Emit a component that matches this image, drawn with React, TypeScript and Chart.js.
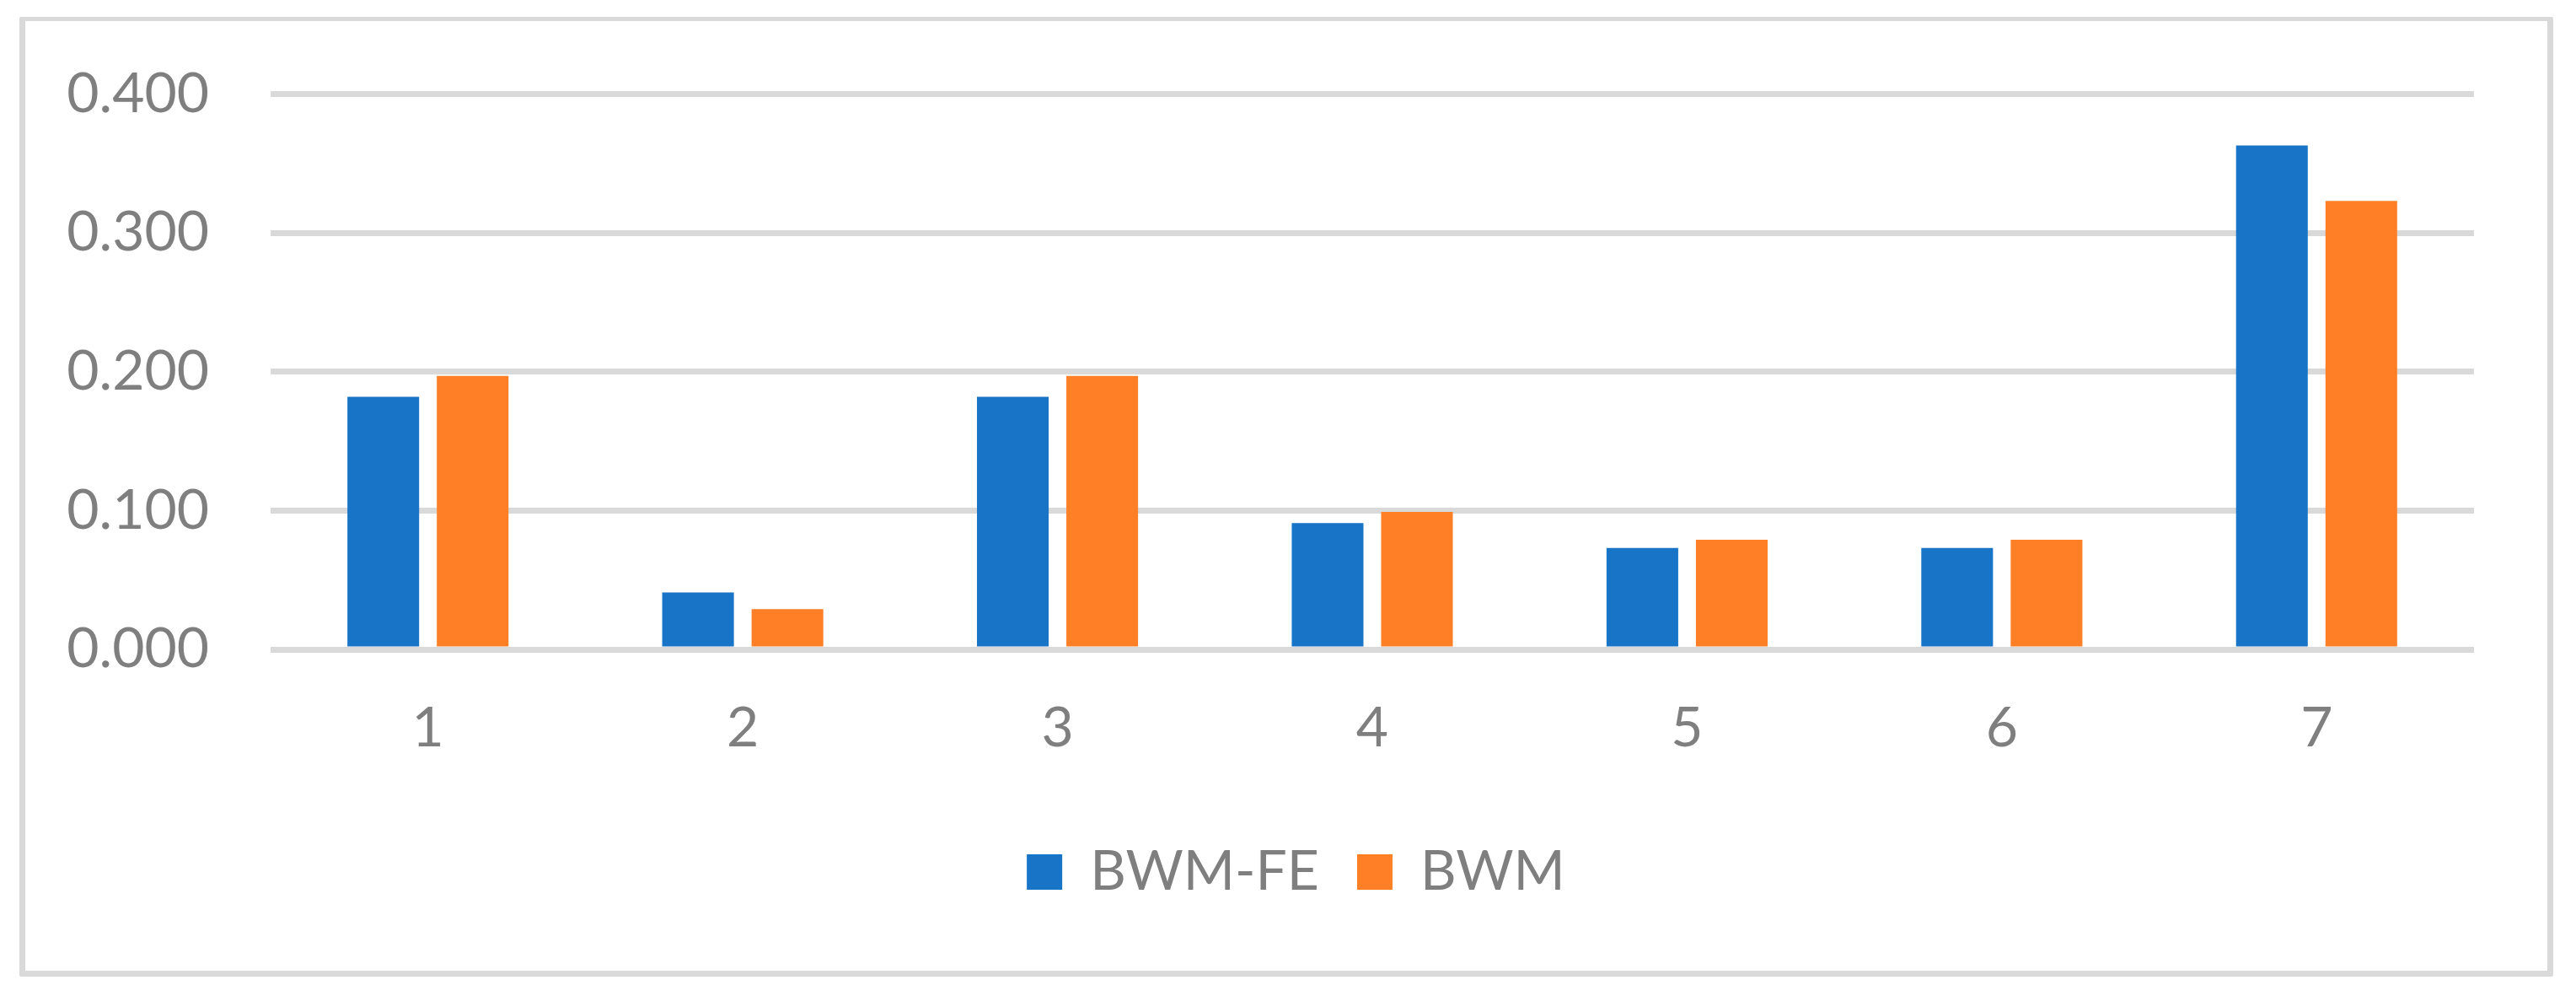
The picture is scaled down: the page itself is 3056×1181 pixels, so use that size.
import React, { useEffect, useRef } from "react";
import { Chart, registerables } from "chart.js";

Chart.register(...registerables);

// ---- data ----
const categories = ["1", "2", "3", "4", "5", "6", "7"];
const seriesNames = ["BWM-FE", "BWM"];
const bwmFe = [0.182, 0.041, 0.182, 0.091, 0.073, 0.073, 0.363];
const bwm = [0.197, 0.029, 0.197, 0.099, 0.079, 0.079, 0.323];
const yMin = 0;
const yMax = 0.4;
const yStep = 0.1;

// ---- style ----
const BLUE = "#1874c7";
const ORANGE = "#ff7f27";
const GRAY = "#7f7f7f";
const GRID = "#d9d9d9";
const FONT = { family: "Lato, 'Liberation Sans', sans-serif", size: 66 };

const CANVAS_W = 2992;
const CANVAS_H = 1126;
const LEGEND_SHIFT = 40;

const legendShift = {
  id: "legendShift",
  afterLayout(chart: any) {
    const lg = chart.legend;
    if (lg) {
      lg.left += LEGEND_SHIFT;
      lg.right += LEGEND_SHIFT;
    }
  },
};

export default function App() {
  const ref = useRef<HTMLCanvasElement | null>(null);

  useEffect(() => {
    if (!ref.current) return;
    const chart = new Chart(ref.current, {
      type: "bar",
      data: {
        labels: categories,
        datasets: [
          {
            label: seriesNames[0],
            data: bwmFe,
            backgroundColor: BLUE,
            categoryPercentage: 0.568,
            barPercentage: 0.802,
          },
          {
            label: seriesNames[1],
            data: bwm,
            backgroundColor: ORANGE,
            categoryPercentage: 0.568,
            barPercentage: 0.802,
          },
        ],
      },
      options: {
        responsive: false,
        animation: false,
        devicePixelRatio: 1,
        layout: { padding: { left: 30, right: 87, top: 86.5, bottom: 74 } },
        plugins: {
          legend: {
            position: "bottom",
            labels: {
              boxWidth: 42,
              boxHeight: 42,
              padding: 45,
              color: GRAY,
              font: FONT,
            },
          },
          tooltip: { enabled: false },
          title: { display: false },
        },
        scales: {
          x: {
            grid: { display: false, drawTicks: false },
            border: { display: false },
            ticks: { color: GRAY, font: FONT, padding: 54 },
            afterFit: (s: any) => {
              s.height = 186;
            },
          },
          y: {
            min: yMin,
            max: yMax,
            ticks: {
              stepSize: yStep,
              padding: 3,
              color: GRAY,
              font: FONT,
              callback: (v: any) => Number(v).toFixed(3),
            },
            grid: {
              color: GRID,
              lineWidth: 7,
              drawTicks: true,
              tickLength: 70,
              tickColor: "rgba(0,0,0,0)",
            },
            border: { display: false },
            afterFit: (s: any) => {
              s.width = 261;
            },
          },
        },
      },
      plugins: [legendShift],
    });
    return () => chart.destroy();
  }, []);

  return (
    <div
      style={{
        position: "absolute",
        left: 23,
        top: 20,
        width: 3006,
        height: 1138,
        boxSizing: "border-box",
        borderStyle: "solid",
        borderColor: GRID,
        borderWidth: "5px 7px 7px 7px",
        borderRadius: 2,
        background: "#ffffff",
      }}
    >
      <canvas
        ref={ref}
        width={CANVAS_W}
        height={CANVAS_H}
        style={{ display: "block", width: CANVAS_W, height: CANVAS_H }}
      />
    </div>
  );
}
